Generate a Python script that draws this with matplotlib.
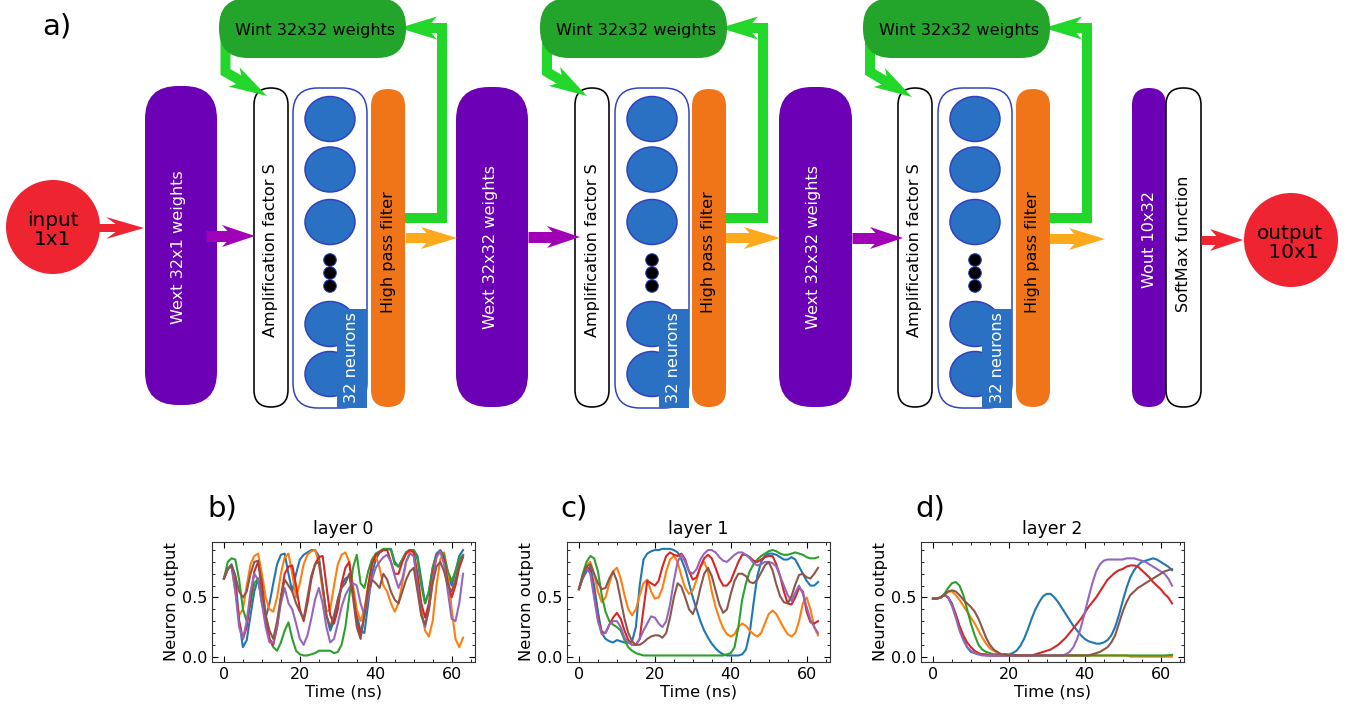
import numpy as np
import matplotlib
matplotlib.use('Agg')
import matplotlib.pyplot as plt
from matplotlib.patches import FancyBboxPatch, Ellipse, Circle, Polygon, Rectangle
from matplotlib.lines import Line2D
from matplotlib.ticker import MultipleLocator

# ---------------- data ----------------
time_ns = list(range(64))
series_colors = ['C0', 'C1', 'C2', 'C3', 'C4', 'C5']
layer_titles = ['layer 0', 'layer 1', 'layer 2']
panel_labels = ['b)', 'c)', 'd)']

l0_blue = [.66,.74,.78,.68,.30,.08,.14,.35,.55,.66,.45,.33,.45,.62,.78,.86,.87,.70,.55,.70,
           .82,.86,.88,.90,.90,.85,.60,.35,.22,.30,.48,.60,.66,.68,.55,.35,.22,.20,.45,.70,
           .82,.88,.90,.91,.91,.80,.76,.82,.88,.90,.90,.85,.65,.45,.55,.75,.87,.90,.85,.70,
           .60,.72,.85,.90]
l0_orange = [.66,.74,.77,.55,.35,.40,.60,.78,.85,.87,.70,.50,.40,.38,.50,.70,.84,.87,.70,.50,
             .62,.78,.86,.89,.90,.80,.55,.38,.40,.60,.78,.86,.88,.80,.60,.40,.30,.40,.60,.78,
             .85,.75,.60,.55,.45,.38,.45,.62,.80,.88,.85,.65,.40,.22,.17,.30,.60,.82,.88,.70,
             .40,.15,.08,.16]
l0_green = [.66,.80,.83,.82,.65,.40,.30,.45,.62,.66,.50,.30,.15,.08,.05,.12,.22,.29,.15,.05,
            .02,.01,.01,.02,.03,.05,.05,.05,.05,.03,.04,.10,.25,.50,.75,.86,.62,.58,.72,.82,
            .87,.89,.91,.91,.90,.78,.76,.82,.88,.90,.90,.82,.60,.45,.55,.75,.86,.89,.86,.72,
            .64,.72,.82,.86]
l0_red = [.66,.74,.77,.60,.30,.15,.25,.50,.72,.80,.62,.35,.15,.10,.25,.50,.70,.76,.77,.60,
          .40,.30,.45,.65,.78,.84,.85,.60,.35,.28,.40,.62,.75,.80,.55,.30,.18,.35,.60,.78,
          .86,.88,.90,.90,.80,.70,.70,.80,.87,.90,.88,.70,.45,.33,.45,.70,.85,.89,.82,.62,
          .50,.60,.75,.84]
l0_purple = [.66,.74,.76,.55,.25,.15,.30,.55,.70,.65,.45,.25,.12,.12,.25,.45,.58,.45,.40,.28,
             .15,.10,.18,.32,.48,.58,.45,.25,.12,.15,.28,.42,.52,.58,.62,.60,.45,.35,.50,.65,
             .75,.80,.84,.86,.80,.68,.58,.66,.80,.87,.85,.60,.35,.25,.40,.65,.84,.89,.78,.55,
             .32,.30,.45,.70]
l0_brown = [.66,.74,.77,.68,.55,.50,.55,.70,.80,.81,.55,.35,.22,.15,.30,.50,.65,.60,.55,.45,
            .38,.32,.50,.68,.78,.80,.60,.35,.25,.35,.48,.58,.62,.70,.50,.25,.15,.35,.55,.65,
            .62,.58,.70,.65,.55,.48,.45,.55,.65,.72,.75,.55,.35,.27,.40,.62,.76,.80,.72,.60,
            .55,.65,.78,.85]

l1_blue = [.57,.66,.72,.76,.60,.38,.20,.15,.13,.12,.14,.13,.12,.12,.13,.25,.60,.82,.87,.89,
           .90,.90,.91,.91,.91,.90,.88,.82,.74,.62,.50,.40,.30,.22,.16,.11,.07,.04,.02,.01,
           .01,.01,.01,.02,.06,.20,.45,.68,.80,.85,.87,.87,.86,.84,.82,.82,.84,.82,.76,.70,
           .64,.60,.60,.63]
l1_orange = [.57,.68,.77,.80,.70,.55,.46,.50,.62,.72,.75,.66,.52,.40,.35,.40,.52,.62,.65,.55,
             .49,.50,.58,.72,.82,.85,.80,.68,.58,.53,.56,.65,.76,.80,.72,.55,.42,.32,.24,.19,
             .17,.19,.25,.28,.26,.22,.19,.17,.20,.28,.36,.39,.36,.30,.24,.19,.17,.20,.30,.45,
             .50,.40,.25,.18]
l1_green = [.57,.70,.80,.85,.83,.72,.52,.38,.30,.27,.25,.22,.14,.08,.05,.03,.02,.01,.01,.01,
            .01,.01,.01,.01,.01,.01,.01,.01,.01,.01,.01,.01,.01,.01,.01,.01,.01,.01,.01,.02,
            .03,.08,.25,.48,.62,.72,.78,.82,.85,.87,.89,.90,.89,.87,.86,.86,.87,.88,.87,.86,
            .84,.83,.83,.84]
l1_red = [.57,.68,.76,.72,.52,.32,.21,.20,.27,.33,.37,.32,.22,.14,.10,.10,.15,.40,.64,.62,
          .60,.64,.76,.85,.88,.86,.85,.87,.82,.72,.65,.67,.76,.83,.86,.83,.75,.66,.60,.60,
          .64,.72,.80,.86,.86,.84,.81,.80,.82,.84,.85,.85,.78,.68,.55,.45,.44,.50,.58,.55,
          .38,.29,.28,.30]
l1_purple = [.57,.67,.75,.70,.50,.30,.19,.20,.27,.30,.30,.25,.16,.12,.10,.10,.15,.22,.28,.34,
             .33,.28,.25,.30,.44,.64,.80,.86,.80,.72,.70,.74,.82,.87,.90,.90,.88,.84,.81,.80,
             .83,.86,.88,.88,.86,.83,.79,.77,.78,.80,.80,.79,.76,.68,.60,.52,.47,.54,.60,.53,
             .42,.31,.25,.20]
l1_brown = [.57,.68,.76,.78,.70,.62,.57,.58,.66,.72,.64,.48,.32,.20,.13,.10,.10,.12,.15,.17,
            .18,.18,.16,.20,.33,.50,.62,.59,.50,.40,.36,.44,.58,.70,.75,.68,.56,.44,.37,.40,
            .53,.64,.70,.70,.68,.63,.62,.65,.71,.77,.80,.73,.61,.51,.46,.45,.51,.61,.69,.70,
            .67,.66,.70,.75]

l2_blue = [.49,.49,.50,.52,.50,.45,.35,.25,.15,.08,.04,.03,.02,.02,.01,.01,.01,.01,.01,.02,
           .02,.03,.05,.09,.15,.23,.32,.40,.46,.51,.53,.53,.50,.46,.41,.36,.31,.26,.22,.18,
           .15,.13,.12,.11,.11,.12,.14,.18,.25,.35,.47,.58,.67,.73,.77,.80,.81,.82,.83,.82,
           .80,.78,.76,.73]
l2_orange = [.49,.49,.50,.52,.55,.55,.52,.48,.43,.38,.33,.28,.22,.16,.11,.07,.05,.03,.02,.02,
             .02,.01,.01,.01,.01,.01,.01,.01,.01,.01,.01,.01,.01,.01,.01,.01,.01,.01,.01,.01,
             .01,.01,.01,.01,.01,.01,.01,.01,.01,.01,.01,.01,.00,.00,.00,.00,.00,.00,.00,.00,
             .00,.00,.00,.00]
l2_green = [.49,.49,.50,.53,.58,.62,.63,.60,.52,.40,.28,.18,.10,.06,.04,.03,.02,.02,.01,.01,
            .01,.01,.01,.01,.01,.01,.01,.01,.01,.01,.01,.01,.01,.01,.01,.01,.01,.01,.01,.01,
            .01,.01,.01,.01,.01,.01,.01,.01,.01,.01,.01,.01,.01,.01,.01,.01,.01,.01,.01,.01,
            .01,.01,.012,.015]
l2_red = [.49,.49,.50,.52,.50,.44,.36,.26,.18,.12,.08,.05,.03,.02,.02,.01,.01,.01,.01,.01,
          .01,.01,.01,.01,.01,.01,.01,.02,.03,.04,.05,.06,.08,.10,.13,.16,.20,.24,.28,.32,
          .37,.42,.46,.50,.55,.60,.65,.68,.71,.73,.74,.76,.77,.77,.76,.73,.70,.67,.63,.60,
          .57,.53,.50,.45]
l2_purple = [.49,.49,.50,.52,.50,.43,.33,.22,.14,.08,.05,.03,.02,.01,.01,.01,.01,.01,.01,.01,
             .01,.01,.01,.01,.01,.01,.01,.01,.01,.01,.01,.01,.01,.01,.01,.02,.04,.08,.15,.25,
             .37,.50,.62,.72,.78,.81,.82,.82,.82,.82,.82,.83,.83,.83,.82,.81,.80,.78,.76,.74,
             .72,.70,.66,.60]
l2_brown = [.49,.49,.50,.52,.55,.56,.55,.52,.48,.45,.42,.38,.32,.24,.16,.10,.06,.04,.02,.02,
            .01,.01,.01,.01,.01,.01,.01,.01,.01,.01,.01,.01,.01,.01,.01,.01,.01,.01,.01,.01,
            .01,.01,.02,.03,.04,.06,.08,.12,.18,.28,.38,.46,.52,.55,.58,.60,.62,.64,.66,.68,
            .70,.72,.73,.74]

layers = [
    [l0_blue, l0_orange, l0_green, l0_red, l0_purple, l0_brown],
    [l1_blue, l1_orange, l1_green, l1_red, l1_purple, l1_brown],
    [l2_blue, l2_orange, l2_green, l2_red, l2_purple, l2_brown],
]

# ---------------- figure ----------------
W, H = 1359, 713
fig = plt.figure(figsize=(W / 100, H / 100), dpi=100)
dax = fig.add_axes([0, 0, 1, 1])
dax.set_xlim(0, W)
dax.set_ylim(H, 0)
dax.axis('off')
PT = 0.72  # points per pixel at 100 dpi

PURPLE = '#6c00b4'
MAGENTA = '#a000b6'
ORANGE_BOX = '#f07519'
ORANGE_ARR = '#fca91c'
DARK_GREEN = '#22a52a'
GREEN = '#22d62a'
RED = '#ee2431'
NEURON = '#2a71c3'
NEURON_EDGE = '#3040c0'


def rbox(x0, x1, y0, y1, r, fc, ec='none', lw=0.0, z=2):
    p = FancyBboxPatch((x0, y0), x1 - x0, y1 - y0,
                       boxstyle=f"round,pad=0,rounding_size={r}",
                       fc=fc, ec=ec, lw=lw * PT, zorder=z)
    dax.add_patch(p)


def arrow(pts, tip, L, Hh, n, w, color, z=3):
    tip = np.array(tip, float)
    last = np.array(pts[-1], float)
    d = tip - last
    d /= np.hypot(*d)
    nrm = np.array([-d[1], d[0]])
    notch = tip - (L - n) * d
    xs = [p[0] for p in pts] + [notch[0]]
    ys = [p[1] for p in pts] + [notch[1]]
    dax.add_line(Line2D(xs, ys, lw=w * PT, color=color, solid_capstyle='butt',
                        solid_joinstyle='miter', zorder=z))
    b1 = tip - L * d + Hh * nrm
    b2 = tip - L * d - Hh * nrm
    dax.add_patch(Polygon([tip, b1, notch, b2], closed=True, fc=color, ec='none', zorder=z))


def vtext(x, y, s, color='black', fs=11.6):
    dax.text(x, y, s, rotation=90, ha='center', va='center', rotation_mode='anchor',
             color=color, fontsize=fs, zorder=10)


dax.text(42, 35, 'a)', fontsize=21, va='baseline', ha='left')

# input / output circles
dax.add_patch(Circle((53, 227), 47, fc=RED, ec='none', zorder=2))
dax.text(53, 230, 'input\n1x1', ha='center', va='center', fontsize=14.4, linespacing=0.95, zorder=10)
dax.add_patch(Circle((1291, 240), 47, fc=RED, ec='none', zorder=2))
dax.text(1290, 243, 'output\n 10x1', ha='center', va='center', fontsize=14.4, linespacing=0.95, zorder=10)

arrow([(95, 228)], (144, 228), 38, 11, 15, 8, RED)

# layer geometry
layer_geo = [
    dict(wext=(145, 217, 86, 405), wtxt='Wext 32x1 weights', amp=254, cont=293, hp=371,
         wint=219, loopx=442, gx=225.5, gtip=(267, 96), parr=(206, 255, 236), oarr=(406, 457, 238)),
    dict(wext=(456, 528, 87, 407), wtxt='Wext 32x32 weights', amp=575, cont=615, hp=692,
         wint=540, loopx=763, gx=547, gtip=(587, 96), parr=(528, 580, 237), oarr=(726, 780, 238)),
    dict(wext=(779, 852, 87, 407), wtxt='Wext 32x32 weights', amp=898, cont=938, hp=1016,
         wint=863, loopx=1087, gx=870, gtip=(912, 97), parr=(852, 903, 238), oarr=(1050, 1105, 239)),
]

for g in layer_geo:
    x0, x1, y0, y1 = g['wext']
    rbox(x0, x1, y0, y1, 33, PURPLE)
    vtext((x0 + x1) / 2 - 2, 247, g['wtxt'], color='white')
    # amplification
    a = g['amp']
    rbox(a, a + 34, 88, 407, 17, 'white', 'black', 1.6, z=2)
    vtext(a + 17, 250, 'Amplification factor S')
    # neuron container
    c = g['cont']
    rbox(c, c + 74, 88, 408, 25, 'white', NEURON_EDGE, 1.5, z=2)
    cx = c + 37
    for cy in [119, 169.5, 222, 324, 374]:
        dax.add_patch(Ellipse((cx, cy), 50, 45, fc=NEURON, ec=NEURON_EDGE, lw=1.5 * PT, zorder=3))
    for cy in [260, 273, 286]:
        dax.add_patch(Circle((cx, cy), 6.3, fc='black', ec=NEURON_EDGE, lw=1.0 * PT, zorder=3))
    dax.add_patch(Rectangle((c + 44, 309), 30, 99, fc=NEURON, ec='none', zorder=4))
    vtext(c + 59, 358, '32 neurons', color='white')
    # high pass filter
    h = g['hp']
    rbox(h, h + 34, 89, 407, 17, ORANGE_BOX)
    vtext(h + 17, 252, 'High pass filter')
    # Wint box
    w = g['wint']
    rbox(w, w + 187, -2, 58, 29, DARK_GREEN, z=5)
    dax.text(w + 96, 30, 'Wint 32x32 weights', ha='center', va='center', fontsize=11.6, zorder=10)
    # green feedback loop
    lx = g['loopx']
    arrow([(h + 34, 218), (lx, 218), (lx, 28)], (h + 28, 28), 38, 11.5, 10, 10, GREEN, z=3)
    # green arrow into amplification
    gx = g['gx']
    arrow([(gx, 40), (gx, 72)], g['gtip'], 38, 11, 10, 10, GREEN, z=3)
    # purple arrow
    px0, px1, py = g['parr']
    arrow([(px0, py)], (px1, py), 33, 11, 10, 11, MAGENTA, z=3)
    # orange arrow
    ox0, ox1, oy = g['oarr']
    arrow([(ox0, oy)], (ox1, oy), 36, 11, 10, 10, ORANGE_ARR, z=3)

# output stage
rbox(1132, 1166, 88, 407, 17, PURPLE)
vtext(1149, 239, 'Wout 10x32', color='white')
rbox(1166, 1201, 88, 407, 17, 'white', 'black', 1.6)
vtext(1183, 244, 'SoftMax function')
arrow([(1201, 240)], (1243, 240), 33, 11, 10, 9, RED)

# ---------------- plots ----------------
plot_lefts = [212, 567, 921]
label_x = [207, 560, 915]
for i in range(3):
    ax = fig.add_axes([plot_lefts[i] / W, (H - 662) / H, 263 / W, 120 / H])
    for vals, col in zip(layers[i], series_colors):
        ax.plot(time_ns, vals, color=col, lw=1.5)
    ax.set_xlim(-3.15, 66.15)
    ax.set_ylim(-0.045, 0.968)
    ax.set_xticks([0, 20, 40, 60])
    ax.set_yticks([0, 0.5])
    ax.xaxis.set_minor_locator(MultipleLocator(5))
    ax.yaxis.set_minor_locator(MultipleLocator(0.1))
    ax.tick_params(which='both', direction='in', top=True, right=True, labelsize=11.5)
    ax.tick_params(which='major', length=4)
    ax.tick_params(which='minor', length=2)
    for s in ax.spines.values():
        s.set_color('#333333')
    ax.set_title(layer_titles[i], fontsize=12.5)
    ax.set_xlabel('Time (ns)', fontsize=11.8, labelpad=2)
    ax.set_ylabel('Neuron output', fontsize=11.8, labelpad=2)
    dax.text(label_x[i], 517, panel_labels[i], fontsize=21, va='baseline', ha='left')

fig.savefig('out.png', dpi=100)
